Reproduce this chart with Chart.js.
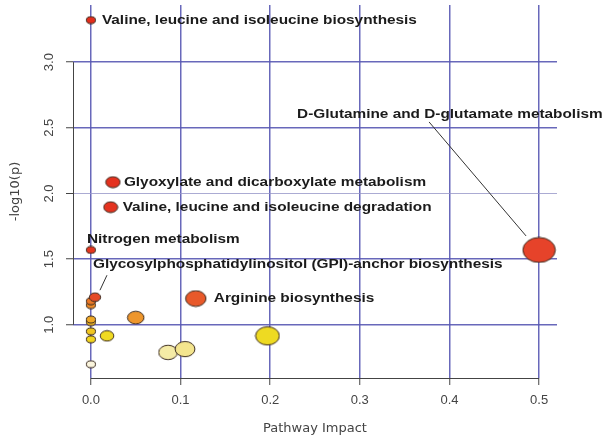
<!DOCTYPE html>
<html lang="en">
  <head>
    <meta charset="UTF-8" />
    <title>Pathway Impact</title>
    <script src="https://cdn.jsdelivr.net/npm/chart.js"></script>
    <style>
      body { margin: 0; background: #ffffff; }
      .grafico { width: 603px; height: 438px; }
    </style>
  </head>
  <body>
    <div class="grafico">
      <canvas id="myCanvas"></canvas>
    </div>

    <script>
      // pathways, unlabelled ones have an empty name
      const pathways = [
        "", "", "", "", "", "", "",
        "Glycosylphosphatidylinositol (GPI)-anchor biosynthesis",
        "", "", "", "",
        "Arginine biosynthesis",
        "",
        "Nitrogen metabolism",
        "Valine, leucine and isoleucine degradation",
        "Glyoxylate and dicarboxylate metabolism",
        "Valine, leucine and isoleucine biosynthesis",
        "D-Glutamine and D-glutamate metabolism",
      ];
      const impact = [
        0, 0, 0, 0, 0, 0, 0, 0.0045, 0.018, 0.05, 0.086, 0.105, 0.117, 0.197,
        0, 0.022, 0.0245, 0, 0.5,
      ];
      const logP = [
        0.7, 0.89, 0.95, 1.02, 1.04, 1.15, 1.18, 1.21, 0.916, 1.055, 0.79,
        0.815, 1.2, 0.916, 1.57, 1.896, 2.086, 3.32, 1.57,
      ];
      const xTicks = [0, 0.1, 0.2, 0.3, 0.4, 0.5];
      const yTicks = [1.0, 1.5, 2.0, 2.5, 3.0];

      // heat colours, red for the smallest p
      const pointColors = [
        "#fbf5dd", "#f2d51e", "#f1c61f", "#f0b624", "#efa826", "#ee8a26",
        "#ec7826", "#e54a26", "#f0da22", "#ee962c", "#f5eba6", "#f4e58e",
        "#e8592a", "#eeda22", "#e4351f", "#e4331f", "#e4311e", "#e32d1c",
        "#e6432a",
      ];

      // where each name sits relative to its circle (+ optional pointer line)
      const labelPlacement = {
        7: { dx: -2, dy: -33, line: [12, -22, 5, -7] },
        12: { dx: 18, dy: 0 },
        14: { dx: -4, dy: -10 },
        15: { dx: 12, dy: 1 },
        16: { dx: 11, dy: 1 },
        17: { dx: 11, dy: 1 },
        18: { dx: -242, dy: -135, line: [-110, -128, -13, -14] },
      };

      const gridColor = "rgba(88, 88, 178, 0.9)";

      function bubbleRadius(x) {
        return 3.5 + 12.7 * Math.sqrt(x);
      }

      // circles come out a bit wide, so draw them as ellipses
      function ellipseStyle(r, fill) {
        const rx = r * 1.3;
        const ry = r;
        const c = document.createElement("canvas");
        c.width = Math.ceil(rx * 2 + 2);
        c.height = Math.ceil(ry * 2 + 2);
        const g = c.getContext("2d");
        g.beginPath();
        g.ellipse(c.width / 2, c.height / 2, rx, ry, 0, 0, Math.PI * 2);
        g.fillStyle = fill;
        g.fill();
        g.lineWidth = 1;
        g.strokeStyle = "#3b2b20";
        g.stroke();
        return c;
      }

      const dados = impact.map((x, i) => ({ x: x, y: logP[i], r: bubbleRadius(x) }));
      const estilos = dados.map((d, i) => ellipseStyle(d.r, pointColors[i]));

      const axisLines = {
        id: "axisLines",
        beforeDatasetsDraw(chart) {
          const { ctx, chartArea, scales } = chart;
          ctx.save();
          ctx.strokeStyle = "#444";
          ctx.lineWidth = 1;
          ctx.beginPath();
          ctx.moveTo(chartArea.left + 0.5, scales.y.getPixelForValue(yTicks[0]));
          ctx.lineTo(chartArea.left + 0.5, scales.y.getPixelForValue(yTicks[yTicks.length - 1]));
          ctx.moveTo(scales.x.getPixelForValue(xTicks[0]), chartArea.bottom + 0.5);
          ctx.lineTo(scales.x.getPixelForValue(xTicks[xTicks.length - 1]), chartArea.bottom + 0.5);
          ctx.stroke();
          ctx.restore();
        },
      };

      const pathwayLabels = {
        id: "pathwayLabels",
        afterDatasetsDraw(chart) {
          const ctx = chart.ctx;
          const meta = chart.getDatasetMeta(0);
          ctx.save();
          ctx.font = 'bold 12px "Liberation Sans"';
          ctx.textBaseline = "middle";
          ctx.fillStyle = "#1b1b1b";
          ctx.strokeStyle = "#333";
          ctx.lineWidth = 1;
          Object.keys(labelPlacement).forEach((k) => {
            const i = Number(k);
            const p = labelPlacement[k];
            const el = meta.data[i];
            if (p.line) {
              ctx.beginPath();
              ctx.moveTo(el.x + p.line[0], el.y + p.line[1]);
              ctx.lineTo(el.x + p.line[2], el.y + p.line[3]);
              ctx.stroke();
            }
            ctx.save();
            ctx.translate(el.x + p.dx, el.y + p.dy);
            ctx.scale(1.28, 1);
            ctx.fillText(pathways[i], 0, 0);
            ctx.restore();
          });
          ctx.restore();
        },
      };

      const ctx = document.getElementById("myCanvas").getContext("2d");
      const myChart = new Chart(ctx, {
        type: "bubble",
        data: {
          datasets: [
            {
              label: "Pathways",
              data: dados,
              pointStyle: (c) => estilos[c.dataIndex],
              backgroundColor: pointColors,
              clip: false,
            },
          ],
        },
        options: {
          responsive: true,
          maintainAspectRatio: false,
          animation: false,
          events: [],
          layout: { autoPadding: false, padding: { top: 5, right: 46, left: 0, bottom: 0 } },
          plugins: {
            legend: { display: false },
            tooltip: { enabled: false },
          },
          scales: {
            x: {
              type: "linear",
              min: -0.02,
              max: 0.52,
              afterBuildTicks: (s) => {
                s.ticks = xTicks.map((v) => ({ value: v }));
              },
              afterFit: (s) => {
                s.height = 60;
                s.paddingLeft = 0;
                s.paddingRight = 0;
              },
              grid: {
                color: gridColor,
                lineWidth: 1.5,
                tickColor: "#444",
                tickLength: 7,
                tickWidth: 1,
              },
              border: { display: false },
              ticks: {
                color: "#444",
                font: { family: "Liberation Sans", size: 13 },
                padding: 8,
                maxRotation: 0,
                callback: (v) => Number(v).toFixed(1),
              },
              title: {
                display: true,
                text: "Pathway Impact",
                color: "#444",
                font: { family: "DejaVu Sans", size: 13 },
                padding: { top: 0, bottom: 2 },
              },
            },
            y: {
              type: "linear",
              min: 0.595,
              max: 3.435,
              afterBuildTicks: (s) => {
                s.ticks = yTicks.map((v) => ({ value: v }));
              },
              afterFit: (s) => {
                s.width = 73;
                s.paddingTop = 0;
                s.paddingBottom = 0;
              },
              grid: {
                color: (c) => (c.tick && c.tick.value === 2 ? "rgba(150, 150, 200, 0.8)" : gridColor),
                lineWidth: (c) => (c.tick && c.tick.value === 2 ? 1 : 1.5),
                tickColor: "#444",
                tickLength: 7,
                tickWidth: 1,
              },
              border: { display: false },
              ticks: {
                color: "#444",
                font: { family: "Liberation Sans", size: 13 },
                padding: 8,
                minRotation: 90,
                maxRotation: 90,
                crossAlign: "center",
                callback: (v) => Number(v).toFixed(1),
              },
              title: {
                display: true,
                text: "-log10(p)",
                color: "#444",
                font: { family: "DejaVu Sans", size: 13 },
                padding: { top: 8, bottom: 0 },
              },
            },
          },
        },
        plugins: [axisLines, pathwayLabels],
      });
    </script>
  </body>
</html>
